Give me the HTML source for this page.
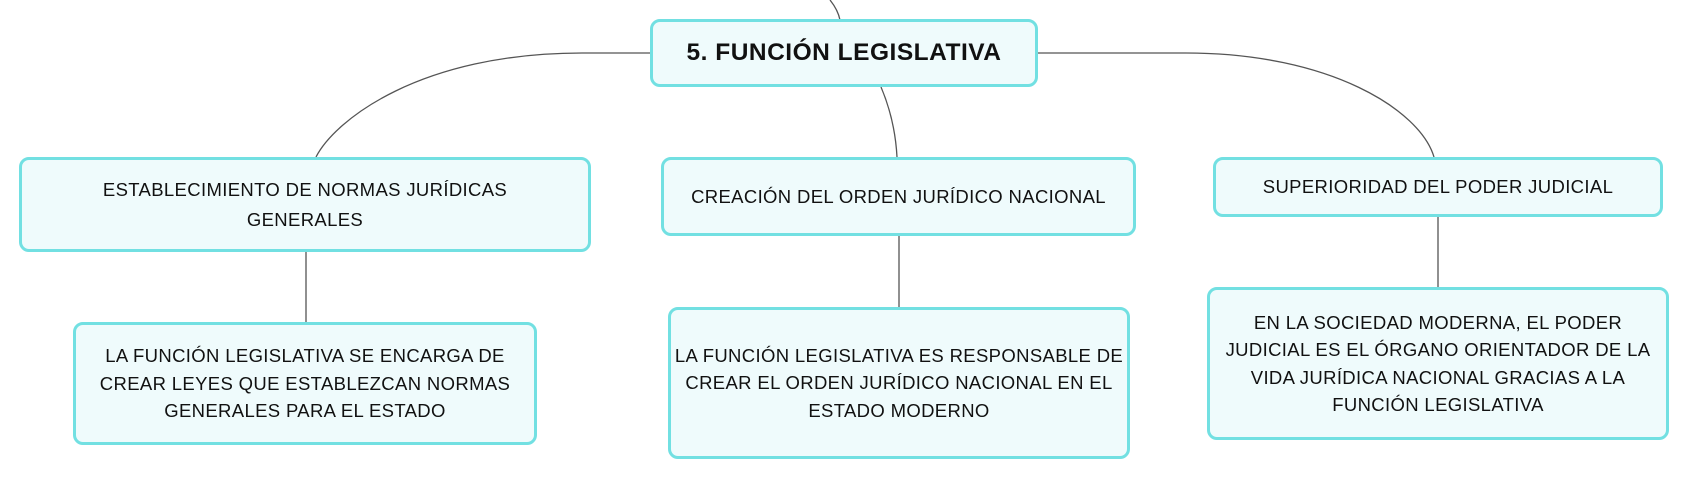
<!DOCTYPE html>
<html><head><meta charset="utf-8">
<style>
html,body{margin:0;padding:0;background:#fff;}
body{width:1690px;height:481px;position:relative;overflow:hidden;font-family:"Liberation Sans",sans-serif;color:#111;}
.b{position:absolute;box-sizing:border-box;border:3px solid #72e0e2;border-radius:10px;background:#effbfc;display:flex;align-items:center;justify-content:center;text-align:center;font-size:18.5px;letter-spacing:0.35px;line-height:27.5px;white-space:nowrap;}
svg{position:absolute;left:0;top:0;}
</style></head><body>
<svg width="1690" height="481" fill="none" stroke="#555" stroke-width="1.3">
<path d="M830 0 Q838 10 840 20"/>
<path d="M650 53 L582 53 C420 53 335 120 316 157"/>
<path d="M1038 53 L1186 53 C1330 53 1420 110 1434 157"/>
<path d="M881 87 Q895 120 897 157"/>
<path d="M306 252 L306 322"/>
<path d="M899 236 L899 307"/>
<path d="M1438 217 L1438 287"/>
</svg>
<div class="b" style="left:650px;top:19px;width:388px;height:68px;font-weight:bold;font-size:24.5px;letter-spacing:0.5px;">5. FUNCIÓN LEGISLATIVA</div>
<div class="b" style="left:19px;top:157px;width:572px;height:95px;line-height:30px;">ESTABLECIMIENTO DE NORMAS JURÍDICAS<br>GENERALES</div>
<div class="b" style="left:661px;top:157px;width:475px;height:79px;">CREACIÓN DEL ORDEN JURÍDICO NACIONAL</div>
<div class="b" style="left:1213px;top:157px;width:450px;height:60px;">SUPERIORIDAD DEL PODER JUDICIAL</div>
<div class="b" style="left:73px;top:322px;width:464px;height:123px;">LA FUNCIÓN LEGISLATIVA SE ENCARGA DE<br>CREAR LEYES QUE ESTABLEZCAN NORMAS<br>GENERALES PARA EL ESTADO</div>
<div class="b" style="left:668px;top:307px;width:462px;height:152px;">LA FUNCIÓN LEGISLATIVA ES RESPONSABLE DE<br>CREAR EL ORDEN JURÍDICO NACIONAL EN EL<br>ESTADO MODERNO</div>
<div class="b" style="left:1207px;top:287px;width:462px;height:153px;">EN LA SOCIEDAD MODERNA, EL PODER<br>JUDICIAL ES EL ÓRGANO ORIENTADOR DE LA<br>VIDA JURÍDICA NACIONAL GRACIAS A LA<br>FUNCIÓN LEGISLATIVA</div>
</body></html>
